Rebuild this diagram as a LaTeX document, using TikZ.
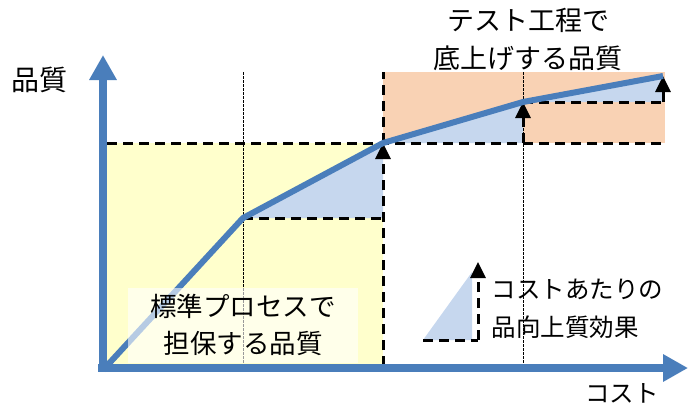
\documentclass[tikz,border=0pt]{standalone}
\usepackage{fontspec}
\newfontfamily\jpfont{Noto Sans CJK JP}
\usetikzlibrary{arrows.meta}
\definecolor{axisblue}{RGB}{74,126,187}
\definecolor{gainblue}{RGB}{198,215,238}
\definecolor{stdyellow}{RGB}{255,255,204}
\definecolor{testorange}{RGB}{249,210,180}

\begin{document}
\begin{tikzpicture}[x=1pt, y=-1pt,
  axis/.style={line width=8pt, axisblue, -{Triangle[width=26pt,length=25pt]}},
  curve/.style={line width=6pt, axisblue, line join=round},
  stepline/.style={line width=3pt, dash pattern=on 10pt off 6pt},
  steparrow/.style={stepline, -{Triangle[width=15pt,length=16pt]}},
  guide/.style={line width=0.9pt, dash pattern=on 2.5pt off 1.5pt},
  lbl/.style={font=\jpfont\fontsize{26.5}{37}\selectfont, align=center}]
  \useasboundingbox (0,0) rectangle (700,413);

  % points on the quality curve
  \coordinate (O) at (103,370);
  \coordinate (p1) at (243,218);
  \coordinate (p2) at (383,143);
  \coordinate (p3) at (523,102);
  \coordinate (p4) at (663,76);

  % areas: standard process / test process
  \fill[stdyellow] (107,143) rectangle (383,366);
  \fill[testorange] (383,72) rectangle (665,143);

  % gain triangles
  \fill[gainblue] (p1) -- (p2) -- (383,218) -- cycle;
  \fill[gainblue] (p2) -- (p3) -- (523,143) -- cycle;
  \fill[gainblue] (p3) -- (p4) -- (663,102) -- cycle;

  % thin guides
  \draw[guide] (243,72) -- (243,366);
  \draw[guide] (523,72) -- (523,366);

  % steps
  \draw[stepline] (107,143) -- (663,143);
  \draw[stepline] (p1) -- (383,218);
  \draw[steparrow] (383,366) -- (p2);
  \draw[stepline] (p2) -- (383,72);
  \draw[steparrow] (523,143) -- (p3);
  \draw[stepline] (p3) -- (663,102);
  \draw[steparrow] (663,102) -- (p4);

  % quality curve
  \draw[curve] (O) -- (p1) -- (p2) -- (p3) -- (p4);

  % axes
  \draw[axis] (98,368) -- (688,368);
  \draw[axis] (103,372) -- (103,55);

  % labels
  \node[lbl, font=\jpfont\fontsize{28}{32}\selectfont] (quality) at (39,80) {品質};
  \node[lbl, font=\jpfont\fontsize{24.5}{30}\selectfont] (cost) at (622,393) {コスト};
  \node[lbl, font=\jpfont\fontsize{27}{38}\selectfont] (testq) at (528,39) {テスト工程で\\底上げする品質};
  \node[lbl, fill=white, fill opacity=0.6, text opacity=1,
    minimum width=230pt, minimum height=75pt] (stdq) at (243,325)
    {標準プロセスで\\担保する品質};

  % legend
  \coordinate (l0) at (423,340);
  \coordinate (l1) at (478,340);
  \coordinate (l2) at (478,262);
  \fill[gainblue] (l0) -- (472,272) -- (472,340) -- cycle;
  \draw[stepline] (l0) -- (l1);
  \draw[steparrow] (l1) -- (l2);
  \node[lbl, font=\jpfont\fontsize{24.5}{38}\selectfont, align=left, anchor=west]
    (effect) at (488,309) {コストあたりの\\品向上質効果};
\end{tikzpicture}
\end{document}
